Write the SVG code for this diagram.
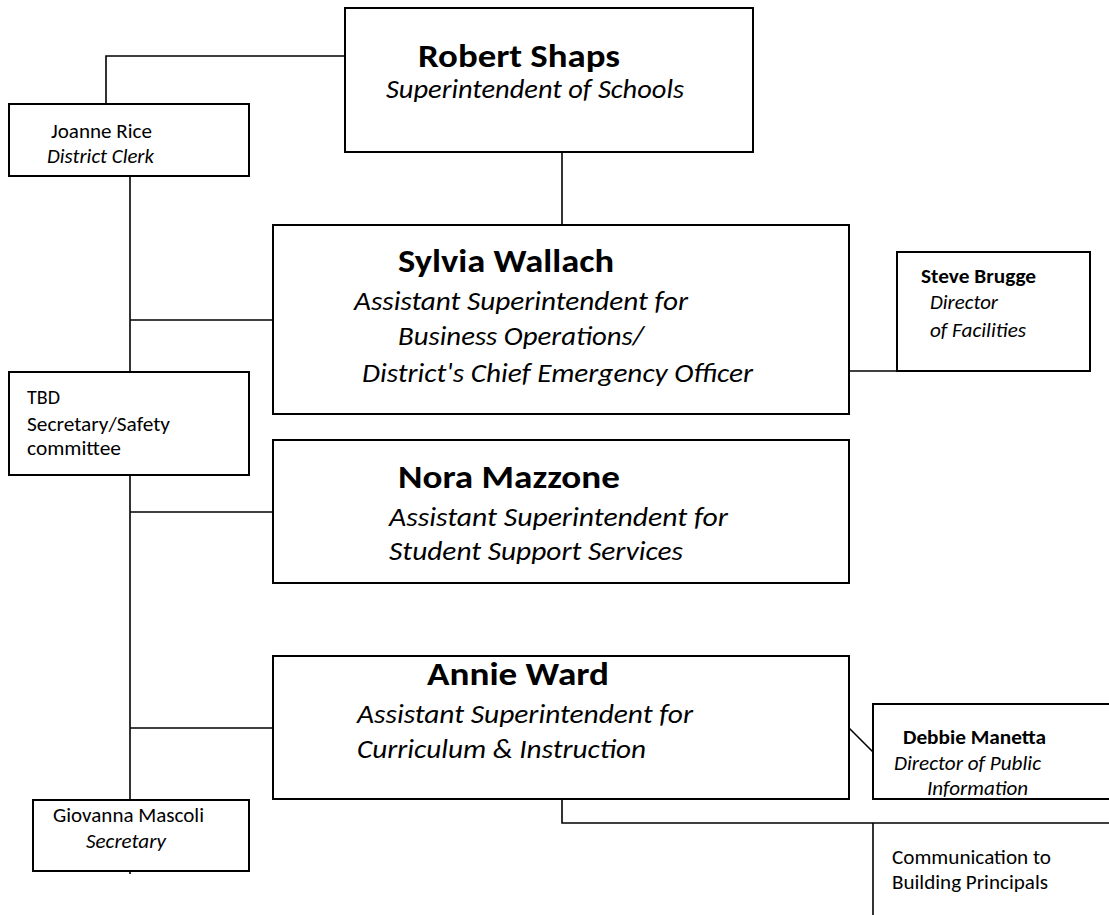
<svg xmlns="http://www.w3.org/2000/svg" width="1109" height="915" viewBox="0 0 1109 915">
<style>
text{font-family:Carlito,Lato,"Liberation Sans",sans-serif;fill:#000}
.box{fill:#fff;stroke:#000;stroke-width:2}
.c{fill:none;stroke:#000;stroke-width:1.6}
.big{font-weight:bold;font-size:33px}
.ttl{font-style:italic;font-size:26px}
.sm{font-size:20px}
.smb{font-size:20px;font-weight:bold}
.smi{font-size:20px;font-style:italic}
</style>
<rect width="1109" height="915" fill="#fff"/>
<g id="connectors">
<polyline class="c" points="345,56 106,56 106,104"/>
<line class="c" x1="130" y1="176" x2="130" y2="372"/>
<line class="c" x1="130" y1="320" x2="273" y2="320"/>
<line class="c" x1="562" y1="152" x2="562" y2="225"/>
<line class="c" x1="849" y1="371" x2="897" y2="371"/>
<line class="c" x1="130" y1="475" x2="130" y2="874"/>
<line class="c" x1="130" y1="512" x2="273" y2="512"/>
<line class="c" x1="130" y1="728" x2="273" y2="728"/>
<line class="c" x1="849" y1="728" x2="873" y2="752"/>
<polyline class="c" points="562,799 562,823 1109,823"/>
<line class="c" x1="873" y1="823" x2="873" y2="915"/>
</g>
<g id="robert">
<rect class="box" x="345" y="8" width="408" height="144"/>
<text class="big" x="418" y="67" textLength="202" lengthAdjust="spacingAndGlyphs">Robert Shaps</text>
<text class="ttl" x="386" y="98" textLength="298" lengthAdjust="spacingAndGlyphs">Superintendent of Schools</text>
</g>
<g id="joanne">
<rect class="box" x="9" y="104" width="240" height="72"/>
<text class="sm" x="51" y="138" textLength="101" lengthAdjust="spacingAndGlyphs">Joanne Rice</text>
<text class="smi" x="47" y="163" textLength="107" lengthAdjust="spacingAndGlyphs">District Clerk</text>
</g>
<g id="sylvia">
<rect class="box" x="273" y="225" width="576" height="189"/>
<text class="big" x="398" y="272" textLength="216" lengthAdjust="spacingAndGlyphs">Sylvia Wallach</text>
<text class="ttl" x="354" y="310" textLength="334" lengthAdjust="spacingAndGlyphs">Assistant Superintendent for</text>
<text class="ttl" x="398" y="345" textLength="246" lengthAdjust="spacingAndGlyphs">Business Operations/</text>
<text class="ttl" x="362" y="382" textLength="391" lengthAdjust="spacingAndGlyphs">District's Chief Emergency Officer</text>
</g>
<g id="steve">
<rect class="box" x="897" y="252" width="193" height="119"/>
<text class="smb" x="921" y="283" textLength="115" lengthAdjust="spacingAndGlyphs">Steve Brugge</text>
<text class="smi" x="930" y="309" textLength="68" lengthAdjust="spacingAndGlyphs">Director</text>
<text class="smi" x="930" y="337" textLength="96" lengthAdjust="spacingAndGlyphs">of Facilities</text>
</g>
<g id="tbd">
<rect class="box" x="9" y="372" width="240" height="103"/>
<text class="sm" x="27" y="404">TBD</text>
<text class="sm" x="27" y="431" textLength="143" lengthAdjust="spacingAndGlyphs">Secretary/Safety</text>
<text class="sm" x="27" y="455" textLength="94" lengthAdjust="spacingAndGlyphs">committee</text>
</g>
<g id="nora">
<rect class="box" x="273" y="440" width="576" height="143"/>
<text class="big" x="398" y="488" textLength="222" lengthAdjust="spacingAndGlyphs">Nora Mazzone</text>
<text class="ttl" x="389" y="526" textLength="339" lengthAdjust="spacingAndGlyphs">Assistant Superintendent for</text>
<text class="ttl" x="389" y="560" textLength="294" lengthAdjust="spacingAndGlyphs">Student Support Services</text>
</g>
<g id="annie">
<rect class="box" x="273" y="656" width="576" height="143"/>
<text class="big" x="427" y="685" textLength="182" lengthAdjust="spacingAndGlyphs">Annie Ward</text>
<text class="ttl" x="357" y="723" textLength="336" lengthAdjust="spacingAndGlyphs">Assistant Superintendent for</text>
<text class="ttl" x="357" y="758" textLength="289" lengthAdjust="spacingAndGlyphs">Curriculum &amp; Instruction</text>
</g>
<g id="debbie">
<rect class="box" x="873" y="704" width="245" height="95"/>
<text class="smb" x="903" y="744" textLength="143" lengthAdjust="spacingAndGlyphs">Debbie Manetta</text>
<text class="smi" x="894" y="770" textLength="147" lengthAdjust="spacingAndGlyphs">Director of Public</text>
<text class="smi" x="927" y="795" textLength="101" lengthAdjust="spacingAndGlyphs">Information</text>
</g>
<g id="communication">
<text class="sm" x="892" y="864" textLength="159" lengthAdjust="spacingAndGlyphs">Communication to</text>
<text class="sm" x="892" y="889" textLength="156" lengthAdjust="spacingAndGlyphs">Building Principals</text>
</g>
<g id="giovanna">
<rect class="box" x="33" y="800" width="216" height="71"/>
<text class="sm" x="53" y="822" textLength="151" lengthAdjust="spacingAndGlyphs">Giovanna Mascoli</text>
<text class="smi" x="86" y="848" textLength="80" lengthAdjust="spacingAndGlyphs">Secretary</text>
</g>
</svg>
